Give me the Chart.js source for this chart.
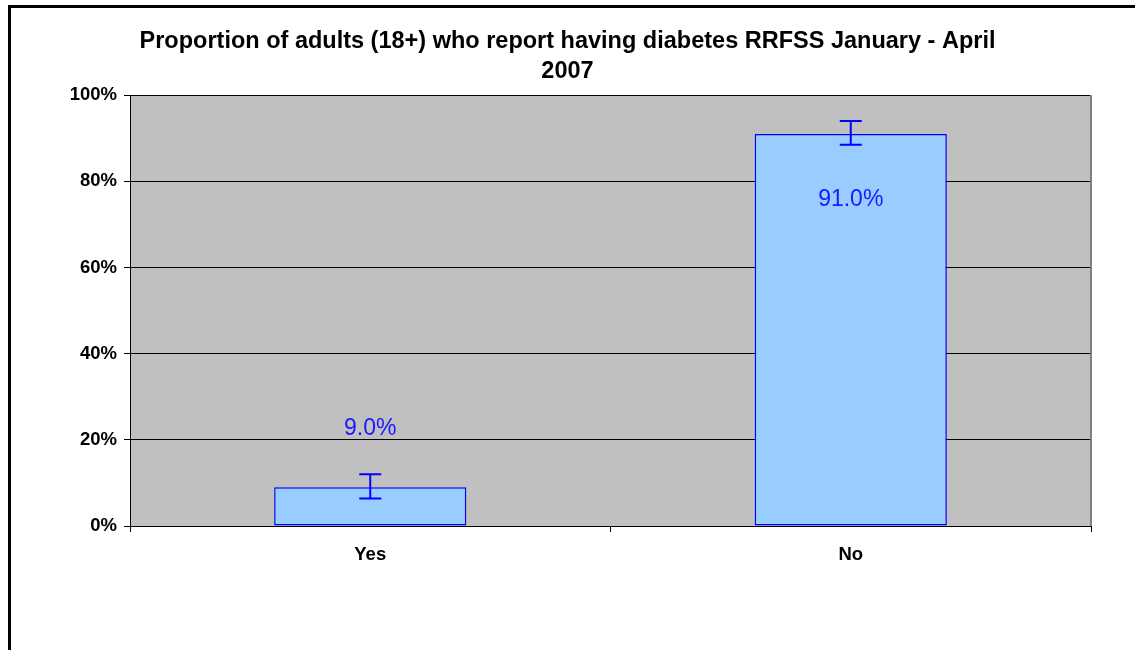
<!DOCTYPE html>
<html>
<head>
<meta charset="utf-8">
<script src="https://cdn.jsdelivr.net/npm/chart.js@4.4.0/dist/chart.umd.min.js"></script>
<style>
  body { margin: 0; background: #fff; overflow: hidden; }
  #wrap { position: relative; width: 1135px; height: 650px; }
  #frame { position: absolute; left: 8px; top: 5px; width: 2000px; height: 2000px;
           border-top: 3px solid #000; border-left: 3px solid #000; pointer-events: none; }
</style>
</head>
<body>
<div id="wrap">
  <canvas id="myChart" width="1135" height="650"></canvas>
  <div id="frame"></div>
</div>
<script>
var categories = ["Yes", "No"];
var values = [9.0, 91.0];
var errLow = [6.4, 88.5];
var errHigh = [12.0, 94.0];
var valueLabels = ["9.0%", "91.0%"];
var labelOffsets = [-59, 66];
var yTicks = [0, 20, 40, 60, 80, 100];

var FONT = "'Liberation Sans', Arial, sans-serif";

// grey plot area + its border
var plotBg = {
    id: 'plotBg',
    beforeDraw: function (chart) {
        var a = chart.chartArea, c = chart.ctx;
        c.save();
        c.fillStyle = '#c0c0c0';
        c.fillRect(a.left, a.top, a.right - a.left, a.bottom - a.top);
        c.restore();
    },
    afterDatasetsDraw: function (chart) {
        var a = chart.chartArea, c = chart.ctx;
        c.save();
        c.strokeStyle = '#808080';
        c.lineWidth = 2;
        c.beginPath();
        c.moveTo(a.right, a.top);
        c.lineTo(a.right, a.bottom);
        c.stroke();
        c.restore();
    }
};

// error bars and value labels
var extras = {
    id: 'extras',
    afterDatasetsDraw: function (chart) {
        var c = chart.ctx, y = chart.scales.y;
        var meta = chart.getDatasetMeta(0);
        c.save();
        meta.data.forEach(function (bar, i) {
            var x = bar.x;
            var yl = y.getPixelForValue(errLow[i]);
            var yh = y.getPixelForValue(errHigh[i]);
            c.strokeStyle = '#0000ff';
            c.lineWidth = 2;
            c.beginPath();
            c.moveTo(x, yl); c.lineTo(x, yh);
            c.moveTo(x - 11, yl); c.lineTo(x + 11, yl);
            c.moveTo(x - 11, yh); c.lineTo(x + 11, yh);
            c.stroke();
            c.fillStyle = '#1a1aff';
            c.font = '23px ' + FONT;
            c.textAlign = 'center';
            c.textBaseline = 'middle';
            c.fillText(valueLabels[i], x, bar.y + labelOffsets[i]);
        });
        c.restore();
    }
};

var ctx = document.getElementById('myChart');
var myChart = new Chart(ctx, {
    type: 'bar',
    data: {
        labels: categories,
        datasets: [{
            data: values,
            backgroundColor: '#99ccff',
            borderColor: '#0000ff',
            borderWidth: 1.5,
            borderSkipped: false,
            barPercentage: 0.4,
            categoryPercentage: 1.0
        }]
    },
    options: {
        responsive: false,
        animation: false,
        layout: { padding: { left: 44, right: 44, top: 0, bottom: 0 } },
        plugins: {
            legend: { display: false },
            tooltip: { enabled: false },
            title: {
                display: true,
                text: ["Proportion of adults (18+) who report having diabetes RRFSS January - April", "2007"],
                color: '#000',
                font: { family: FONT, size: 23.5, weight: 'bold', lineHeight: 1.3 },
                padding: { top: 26, bottom: 8 }
            }
        },
        scales: {
            x: {
                afterFit: function (s) { s.height = 124; },
                grid: { display: true, drawOnChartArea: false, offset: true, color: '#000', tickLength: 6, lineWidth: 1 },
                border: { color: '#000', width: 1 },
                ticks: { color: '#000', padding: 12, font: { family: FONT, size: 18.5, weight: 'bold' } }
            },
            y: {
                min: 0, max: 100,
                afterFit: function (s) { s.width = 86; },
                afterBuildTicks: function (s) { s.ticks = yTicks.map(function (v) { return { value: v }; }); },
                grid: { color: '#000', lineWidth: 1, tickLength: 6 },
                border: { color: '#000', width: 1 },
                ticks: {
                    color: '#000', padding: 7,
                    font: { family: FONT, size: 18.5, weight: 'bold' },
                    callback: function (v) { return v + '%'; }
                }
            }
        }
    },
    plugins: [plotBg, extras]
});
</script>
</body>
</html>
